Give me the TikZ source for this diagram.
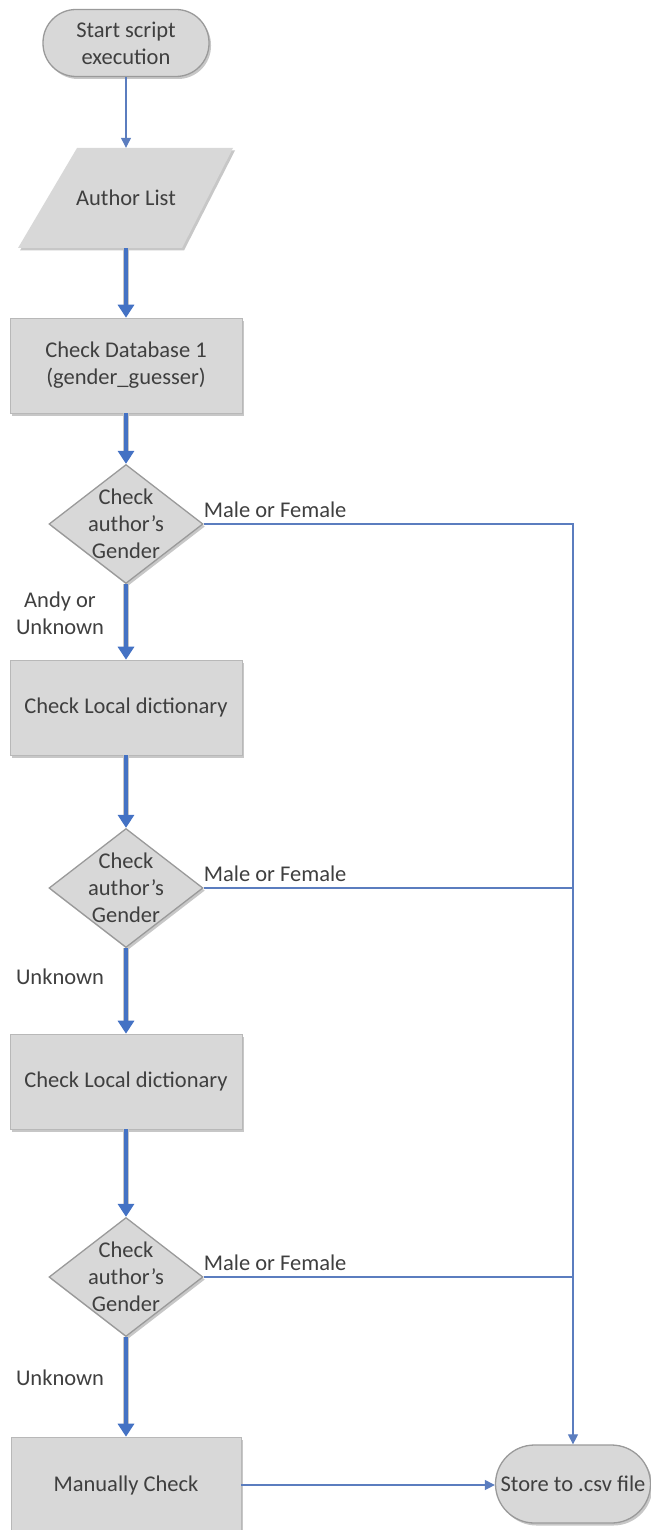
\documentclass[tikz,border=0pt]{standalone}
\usepackage{fontspec}
\setmainfont{Carlito}
\usetikzlibrary{arrows.meta,shapes.geometric,shadows}
\definecolor{shapefill}{HTML}{D8D8D8}
\definecolor{shapeline}{HTML}{9A9A9A}
\definecolor{arrowblue}{HTML}{4472C4}
\definecolor{thinblue}{HTML}{5B7DBF}
\definecolor{txtgrey}{HTML}{3F3F3F}
\tikzset{
  base/.style={font=\fontsize{22.5}{27}\selectfont, text=txtgrey, align=center},
  shadowed/.style={drop shadow={shadow xshift=2pt, shadow yshift=-2.5pt, fill=black, opacity=0.22}},
  terminal/.style={base, rectangle, rounded corners=#1, fill=shapefill, draw=shapeline, line width=1.3pt, inner sep=0pt, shadowed},
  procbox/.style={base, rectangle, fill=shapefill, draw=shapefill!85!black, line width=0.6pt, minimum width=232pt, minimum height=95pt, inner sep=0pt, shadowed},
  decision/.style={diamond, fill=shapefill, draw=shapeline, line width=1.3pt, minimum width=154pt, minimum height=119pt, inner sep=0pt, shadowed},
  txt/.style={base, inner sep=0pt},
  lbl/.style={base, inner sep=0pt},
  thinarrow/.style={draw=thinblue, line width=1.2pt, -{Triangle[length=10pt,width=10pt]}},
  thinline/.style={draw=thinblue, line width=1.2pt},
  thickarrow/.style={draw=arrowblue, line width=3.2pt, -{Triangle[length=13pt,width=16pt]},
    preaction={draw=gray!45, line width=5.5pt, -, shorten >=12pt}},
}
\begin{document}
\begin{tikzpicture}[x=1pt,y=-1pt]
\useasboundingbox (0,0) rectangle (650,1530);
% start
\node[terminal=33pt, minimum width=166pt, minimum height=67pt] (start) at (126,43) {Start script\\execution};
% author list (parallelogram)
\fill[shapefill, shadowed] (77,148) -- (233,148) -- (182,248) -- (18,248) -- cycle;
\node[txt, minimum width=156pt, minimum height=100pt] (list) at (126,198) {Author List};
% process boxes
\node[procbox] (db1) at (126,365.5) {Check Database 1\\(gender\_guesser)};
\node[decision] (d1) at (126,524) {};
\node[txt] (d1t) at (d1) {Check\\author's\\Gender};
\node[procbox] (loc1) at (126,707.5) {Check Local dictionary};
\node[decision] (d2) at (126,888) {};
\node[txt] (d2t) at (d2) {Check\\author's\\Gender};
\node[procbox] (loc2) at (126,1081.5) {Check Local dictionary};
\node[decision] (d3) at (126,1277) {};
\node[txt] (d3t) at (d3) {Check\\author's\\Gender};
\node[procbox, minimum width=230pt, minimum height=96pt] (man) at (126,1485) {Manually Check};
\node[terminal=39pt, minimum width=155pt, minimum height=78pt] (store) at (573,1484) {Store to .csv file};
% vertical connectors
\draw[thinarrow] (start.south) -- (list.north);
\draw[thickarrow] (list.south) -- (db1.north);
\draw[thickarrow] (db1.south) -- (d1.north);
\draw[thickarrow] (d1.south) -- (loc1.north);
\draw[thickarrow] (loc1.south) -- (d2.north);
\draw[thickarrow] (d2.south) -- (loc2.north);
\draw[thickarrow] (loc2.south) -- (d3.north);
\draw[thickarrow] (d3.south) -- (man.north);
% labels on down branches
\node[lbl] (l1) at (60,613) {Andy or\\Unknown};
\node[lbl] (l2) at (60,977) {Unknown};
\node[lbl] (l3) at (60,1378) {Unknown};
% right branches
\draw[thinarrow] (d1.east) -| (store.north);
\draw[thinline] (d2.east) -- (d2.east -| store.north);
\draw[thinline] (d3.east) -- (d3.east -| store.north);
\node[lbl, anchor=base west] (m1) at ([yshift=7pt]d1.east) {Male or Female};
\node[lbl, anchor=base west] (m2) at ([yshift=7pt]d2.east) {Male or Female};
\node[lbl, anchor=base west] (m3) at ([yshift=7pt]d3.east) {Male or Female};
\draw[thinarrow] (man.east) -- (man.east -| store.west);
\end{tikzpicture}
\end{document}
